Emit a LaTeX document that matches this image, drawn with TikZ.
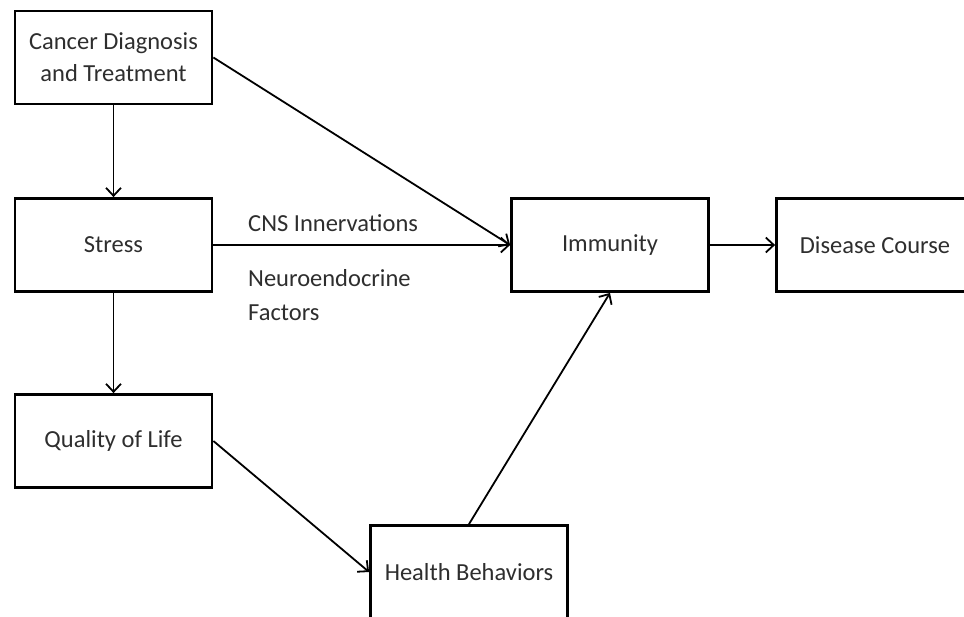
\documentclass[tikz,border=0pt]{standalone}
\usepackage{fontspec}
\setmainfont{Carlito}
\usetikzlibrary{arrows.meta}
\begin{document}
\begin{tikzpicture}[x=1pt,y=-1pt,
  box/.style={draw=black, line width=2.8pt, minimum width=197pt, minimum height=93pt,
    inner sep=0pt, align=center, font=\fontsize{24.5}{32}\selectfont, text=black!82},
  conn/.style={line width=1.8pt, black,
    -{Straight Barb[length=8pt,width=15pt,line width=1.8pt]}},
  lbl/.style={anchor=west, align=left, inner sep=0pt,
    font=\fontsize{24.5}{34}\selectfont, text=black!82}]
\useasboundingbox (0,0) rectangle (964,616);
\clip (0,0) rectangle (964,616);
\node[box] (cancer) at (113.5,57.5) {Cancer Diagnosis\\and Treatment};
\node[box] (stress) at (113.5,245) {Stress};
\node[box] (qol) at (113.5,441) {Quality of Life};
\node[box] (imm) at (610,245) {Immunity};
\node[box] (dis) at (875,245) {Disease Course};
\node[box] (hb) at (469,572) {Health Behaviors};
\node[lbl] (cns) at (248,223) {CNS Innervations};
\node[lbl] (neuro) at (248,295) {Neuroendocrine\\Factors};
\draw[conn] (cancer) -- (stress);
\draw[conn] (stress) -- (qol);
\draw[conn] (cancer.east) -- (imm.west);
\draw[conn] (stress.east) -- (imm.west);
\draw[conn] (qol.east) -- (hb.west);
\draw[conn] (hb.north) -- (imm.south);
\draw[conn] (imm.east) -- (dis.west);
\end{tikzpicture}
\end{document}
